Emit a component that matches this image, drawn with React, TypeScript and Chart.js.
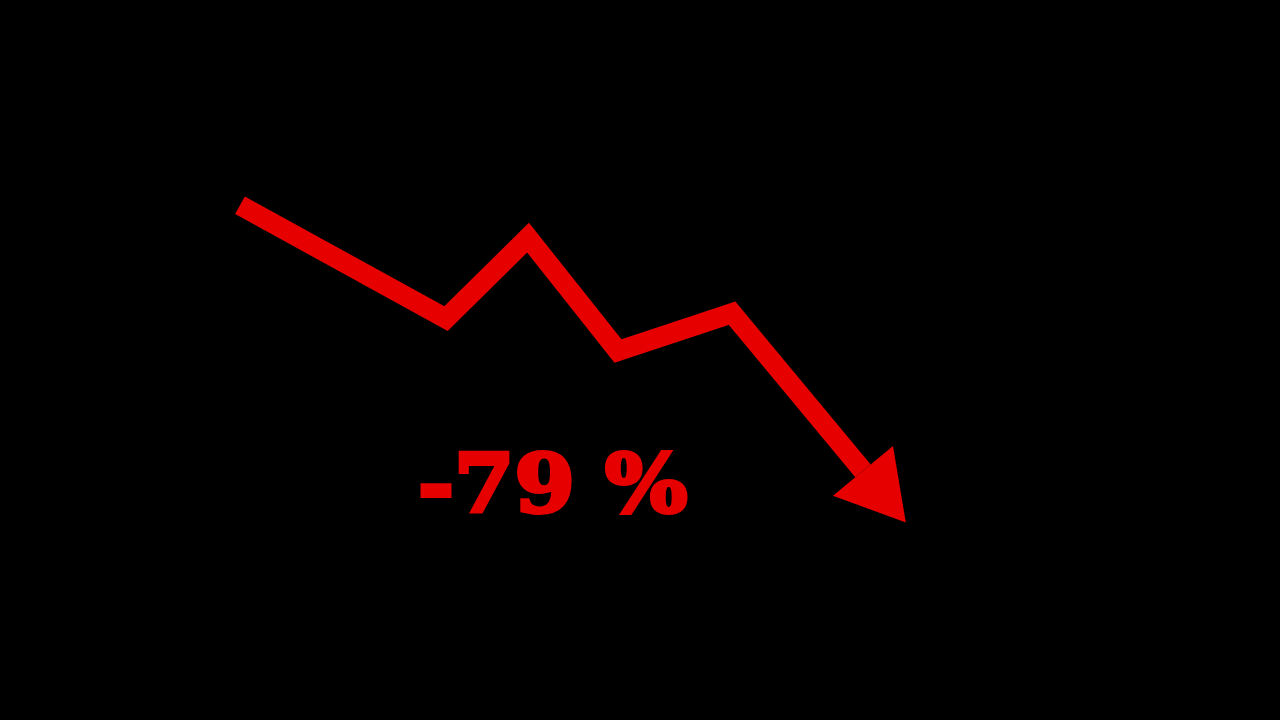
import { useEffect, useRef } from "react";
import { Chart, registerables } from "chart.js";
Chart.register(...registerables);

// period index (x) and price index (y) of the falling line
const periods = [0, 2.06, 2.88, 3.78, 4.92, 6.23];
const values = [103, 71.5, 94, 62.5, 73, 29.2];
const changeLabel = "-79 %";

const RED = "#e60000";

// draws the arrow head at the end of the line, pointing along the last segment
const arrowHead = {
  id: "arrowHead",
  afterDatasetsDraw(chart: Chart) {
    const pts = chart.getDatasetMeta(0).data;
    if (pts.length < 2) return;
    const a = pts[pts.length - 2];
    const b = pts[pts.length - 1];
    const ang = Math.atan2(b.y - a.y, b.x - a.x);
    const len = 67, half = 39;
    const ctx = chart.ctx;
    ctx.save();
    ctx.fillStyle = RED;
    ctx.translate(b.x, b.y);
    ctx.rotate(ang);
    ctx.beginPath();
    ctx.moveTo(len, 0);
    ctx.lineTo(0, -half);
    ctx.lineTo(0, half);
    ctx.closePath();
    ctx.fill();
    ctx.restore();
  },
};

export default function App() {
  const chartRef = useRef<HTMLCanvasElement>(null);
  const chartInst = useRef<Chart | null>(null);

  useEffect(() => {
    if (!chartRef.current) return;
    chartInst.current?.destroy();
    chartInst.current = new Chart(chartRef.current, {
      type: "line",
      data: {
        datasets: [{
          data: periods.map((x, i) => ({ x, y: values[i] })),
          borderColor: RED,
          borderWidth: 20,
          borderJoinStyle: "miter",
          borderCapStyle: "butt",
          pointRadius: 0,
          tension: 0,
          fill: false,
        }],
      },
      options: {
        responsive: false,
        animation: false,
        layout: { padding: 0 },
        plugins: { legend: { display: false }, tooltip: { enabled: false } },
        scales: {
          x: { type: "linear", min: -2.4, max: 10.4, display: false },
          y: { type: "linear", min: -40, max: 160, display: false },
        },
      },
      plugins: [arrowHead],
    });
    return () => chartInst.current?.destroy();
  }, []);

  return (
    <div style={{ position: "fixed", left: 0, top: 0, width: 1280, height: 720, background: "#000" }}>
      <canvas ref={chartRef} width={1280} height={720} style={{ display: "block" }} />
      <div style={{
        position: "absolute", left: 418, top: 424, color: RED,
        fontFamily: "'DejaVu Serif', serif", fontWeight: 900, fontSize: 80,
        lineHeight: "120px", whiteSpace: "pre",
        WebkitTextStroke: `4px ${RED}`,
        transform: "scaleX(1.085)", transformOrigin: "left top",
      }}>{changeLabel}</div>
    </div>
  );
}
